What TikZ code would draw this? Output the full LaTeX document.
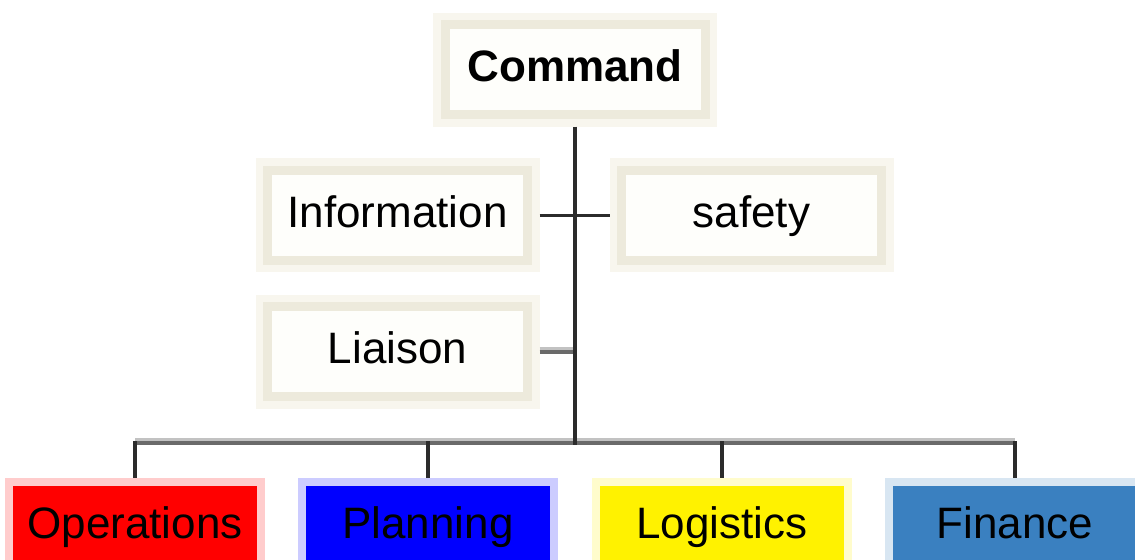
\documentclass[tikz,border=0pt]{standalone}
\usepackage{fontspec}
\setmainfont{Liberation Sans}

\definecolor{halo}{HTML}{F8F6EE}
\definecolor{band}{HTML}{EDEADC}
\definecolor{paper}{HTML}{FEFEFB}
\definecolor{wire}{HTML}{2B2B2B}
\definecolor{busdark}{HTML}{6A6A6A}
\definecolor{buslight}{HTML}{C2C2C2}
\definecolor{finblue}{HTML}{3A80C0}

\tikzset{
  label text/.style={font=\fontsize{22}{26}\selectfont,
    text height=15.75pt, text depth=3.5pt},
  staff/.style={label text, rectangle, fill=paper, draw=band, line width=4.5pt,
    preaction={draw=halo, line width=12pt},
    minimum width=130pt, minimum height=45pt, outer sep=6pt},
  section/.style={label text, rectangle, fill=#1, draw=#1!20, line width=4pt,
    minimum width=126pt, minimum height=44pt, inner sep=0pt, outer sep=2pt},
  trunk/.style={draw=wire, line width=2pt},
  link/.style={draw=wire, line width=1.5pt},
  bus/.style={draw=busdark, line width=2pt,
    preaction={draw=buslight, line width=1.5pt, transform canvas={yshift=1.75pt}}}
}

\begin{document}
\begin{tikzpicture}[x=0.5pt,y=-0.5pt]
    \useasboundingbox (0,0) rectangle (1135,559);
    \clip (0,0) rectangle (1135,559);

    % command staff
    \node[staff,font=\fontsize{22}{26}\selectfont\bfseries] (cmd) at (575,69.5) {Command};
    \node[staff] (info) at (397.5,215) {Information};
    \node[staff] (safety) at (751.5,215) {safety};
    \node[staff] (liaison) at (397.5,351.5) {Liaison};

    % general staff sections
    \node[section=red] (ops) at (135,526) {Operations};
    \node[section=blue] (plan) at (428,526) {Planning};
    \node[section=yellow] (logi) at (722,526) {Logistics};
    \node[section=finblue] (fin) at (1015,526) {Finance};

    \coordinate (bus) at (575,443);

    \draw[link] (info.east) -- (safety.west);
    \draw[bus] (liaison.east) -- (liaison.east -| cmd.south);
    \draw[bus] (ops.north |- bus) -- (fin.north |- bus);
    \draw[trunk] (cmd.south) -- ([yshift=-1pt]cmd.south |- bus);
    \foreach \s in {ops,plan,logi,fin}
        \draw[trunk] ([yshift=1pt]\s.north |- bus) -- (\s.north);
\end{tikzpicture}
\end{document}
